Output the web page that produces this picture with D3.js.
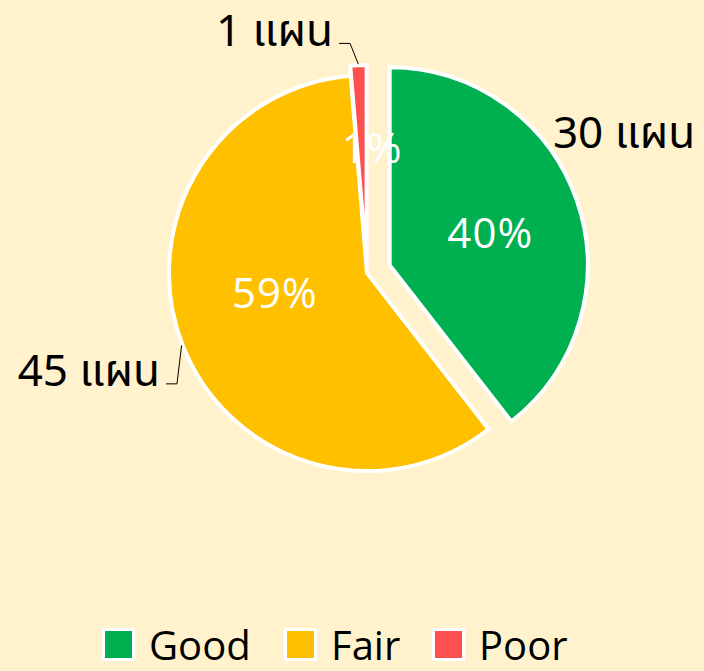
<!DOCTYPE html>
<html>
<head>
<meta charset="utf-8">
<script src="https://cdn.jsdelivr.net/npm/d3@7"></script>
<style>
  html, body { margin: 0; padding: 0; background: #FFF2CC; }
  svg { display: block; }
</style>
</head>
<body>
<svg id="chart" width="704" height="671"></svg>
<script>
// data
var categories = ["Good", "Fair", "Poor"];
var counts = [30, 45, 1];
var pctLabels = ["40%", "59%", "1%"];
var unitText = "แผน";
var colors = ["#00B050", "#FFC000", "#FF5050"];

var svg = d3.select("#chart"),
    width = +svg.attr("width"),
    height = +svg.attr("height");

svg.append("rect").attr("width", width).attr("height", height).attr("fill", "#FFF2CC");

var cx = 367, cy = 273, radius = 198;
// how far each slice is pulled out from the centre
var explode = [24, 0, 10];

var pie = d3.pie().sort(null).value(function(d) { return d; });
var arcs = pie(counts);
var arc = d3.arc().innerRadius(0).outerRadius(radius);

function mid(d) { return (d.startAngle + d.endAngle) / 2; }
function polar(a, r) { return [Math.sin(a) * r, -Math.cos(a) * r]; }

var g = svg.append("g").attr("transform", "translate(" + cx + "," + cy + ")");

var slices = g.selectAll(".slice")
  .data(arcs)
  .enter().append("g")
  .attr("class", "slice")
  .attr("transform", function(d, i) {
    var p = polar(mid(d), explode[i]);
    return "translate(" + p[0] + "," + p[1] + ")";
  });

slices.append("path")
  .attr("d", arc)
  .attr("fill", function(d, i) { return colors[i]; })
  .attr("stroke", "#fff")
  .attr("stroke-width", 4)
  .attr("stroke-linejoin", "miter");

// percentage labels inside: [radius factor, angle shift in rad]
var pctPos = [[0.533, 0.022], [0.476, 0.157], [0.58, 0.089]];
slices.append("text")
  .attr("transform", function(d, i) {
    var p = polar(mid(d) + pctPos[i][1], radius * pctPos[i][0]);
    return "translate(" + p[0] + "," + p[1] + ")";
  })
  .attr("text-anchor", "middle")
  .attr("dy", "0.36em")
  .attr("fill", "#fff")
  .style("font-family", "'Open Sans', 'Noto Sans', sans-serif")
  .style("font-size", "42px")
  .style("letter-spacing", "1px")
  .text(function(d, i) { return pctLabels[i]; });

// outer count labels: angle (deg from top), radius from the slice's centre, anchor
var labelSpots = [
  { a: 51, r: 210, anchor: "start", leader: false },
  { a: 244.7, r: 229, anchor: "end", leader: true },
  { a: 351.8, r: 235, anchor: "end", leader: true }
];

slices.each(function(d, i) {
  var s = d3.select(this), spot = labelSpots[i];
  var p = polar(spot.a * Math.PI / 180, spot.r);
  s.append("text")
    .attr("x", p[0])
    .attr("y", p[1])
    .attr("text-anchor", spot.anchor)
    .attr("dy", "0.35em")
    .attr("fill", "#000")
    .style("font-family", "Tahoma, 'Noto Sans Thai', 'Noto Sans', 'DejaVu Sans', sans-serif")
    .style("font-size", "44px")
    .text(counts[i] + " " + unitText);
  if (spot.leader) {
    var edge = polar(mid(d), radius + 1);
    var ly = p[1] + 13;
    var pts = [[p[0] + 6, ly], [p[0] + 17, ly], edge];
    s.append("path")
      .attr("d", d3.line()(pts))
      .attr("fill", "none")
      .attr("stroke", "#000")
      .attr("stroke-width", 1);
  }
});

// legend
var legendX = [102, 284, 432];
var legend = svg.append("g").attr("transform", "translate(0,628)");
var items = legend.selectAll(".item")
  .data(categories)
  .enter().append("g")
  .attr("class", "item")
  .attr("transform", function(d, i) { return "translate(" + legendX[i] + ",0)"; });
items.append("rect")
  .attr("x", 1.5).attr("y", 1.5)
  .attr("width", 30).attr("height", 30)
  .attr("fill", function(d, i) { return colors[i]; })
  .attr("stroke", "#fff")
  .attr("stroke-width", 3);
items.append("text")
  .attr("x", 47)
  .attr("y", 32)
  .attr("fill", "#000")
  .style("font-family", "'Open Sans', 'Noto Sans', sans-serif")
  .style("font-size", "40px")
  .text(function(d) { return d; });
</script>
</body>
</html>
